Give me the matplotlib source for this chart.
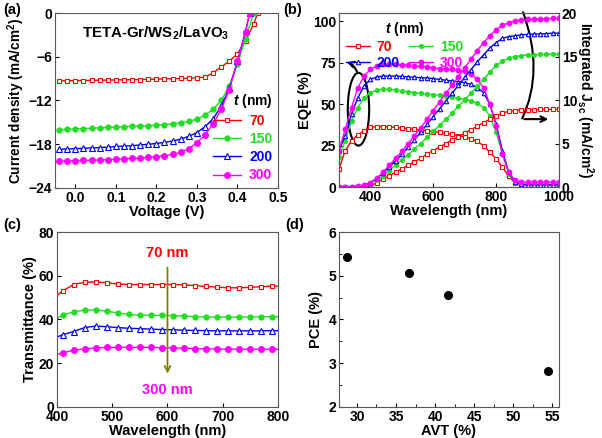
import matplotlib.pyplot as plt
import numpy as np
from matplotlib.path import Path
from matplotlib.patches import PathPatch, Ellipse
from matplotlib.ticker import MultipleLocator

plt.rcParams['font.family'] = ['Liberation Sans', 'DejaVu Sans']
plt.rcParams['font.weight'] = 'bold'
plt.rcParams['axes.labelweight'] = 'bold'
plt.rcParams['mathtext.fontset'] = 'custom'
plt.rcParams['mathtext.rm'] = 'Liberation Sans:bold'
plt.rcParams['mathtext.bf'] = 'Liberation Sans:bold'
plt.rcParams['mathtext.it'] = 'Liberation Sans:italic:bold'
plt.rcParams['mathtext.default'] = 'bf'

# ---- data ----
thickness = ["70", "150", "200", "300"]
colors = ["#ff0000", "#22dd22", "#0000ff", "#ff00ff"]

# (a) J-V
v_70 = [-0.04,-0.02,0.00,0.02,0.04,0.06,0.08,0.10,0.12,0.14,0.16,0.18,0.20,0.22,0.24,0.26,0.28,0.30,0.32,0.34,0.36,0.38,0.40,0.42,0.44,0.45]
j_70 = [-9.30,-9.29,-9.28,-9.26,-9.24,-9.22,-9.20,-9.18,-9.16,-9.14,-9.12,-9.10,-9.07,-9.04,-9.01,-8.98,-8.94,-8.88,-8.80,-8.20,-7.40,-6.60,-5.60,-3.80,-1.50,0.0]
v_150 = [-0.04,-0.02,0.00,0.02,0.04,0.06,0.08,0.10,0.12,0.14,0.16,0.18,0.20,0.22,0.24,0.26,0.28,0.30,0.32,0.34,0.36,0.38,0.40,0.42,0.44]
j_150 = [-16.0,-15.95,-15.9,-15.85,-15.8,-15.75,-15.7,-15.65,-15.6,-15.55,-15.5,-15.45,-15.4,-15.3,-15.2,-15.05,-14.85,-14.55,-14.0,-13.2,-12.0,-10.0,-7.0,-3.5,0.0]
v_200 = [-0.04,-0.02,0.00,0.02,0.04,0.06,0.08,0.10,0.12,0.14,0.16,0.18,0.20,0.22,0.24,0.26,0.28,0.30,0.32,0.34,0.36,0.38,0.40,0.42,0.43]
j_200 = [-18.7,-18.65,-18.6,-18.55,-18.5,-18.45,-18.4,-18.3,-18.25,-18.2,-18.1,-18.0,-17.9,-17.75,-17.55,-17.3,-16.9,-16.4,-15.6,-14.5,-12.8,-10.3,-6.6,-2.5,0.0]
v_300 = [-0.04,-0.02,0.00,0.02,0.04,0.06,0.08,0.10,0.12,0.14,0.16,0.18,0.20,0.22,0.24,0.26,0.28,0.30,0.32,0.34,0.36,0.38,0.40,0.42,0.43]
j_300 = [-20.3,-20.3,-20.25,-20.2,-20.2,-20.15,-20.1,-20.05,-20.0,-19.95,-19.9,-19.8,-19.7,-19.55,-19.4,-19.1,-18.6,-17.8,-16.7,-15.2,-13.2,-10.5,-6.6,-2.6,0.0]

# (b) EQE and integrated Jsc
wl_eqe = [300,320,340,360,380,400,420,440,460,480,500,520,540,560,580,600,620,640,660,680,700,720,740,760,780,800,820,840,860,880,900,920,940,960,980,1000]
eqe_70 = [11,22,28,31.5,34,36,36.5,36.5,36.3,36,35.5,35.2,35,34.5,34,33.5,33,32.5,31.8,31,30.3,29,27.5,25,21,17,12,6.5,2.5,1.2,1,1,1,1,1,1]
eqe_150 = [18,28,40,48,54,57,58.5,59,59,58.5,58,57.5,57,56.5,56,55.8,55.5,55,54.5,53.5,53,52,50.5,48,43,33,20,8,2.5,1.5,1.5,1.5,1.5,1.5,1.5,1.5]
eqe_200 = [22,31,44,54,61,65,66.5,67,67,67,66.8,66.5,66.3,66,65.8,65.5,65,64.5,64,63.5,63,62,60,57,50,38,22,9,3,1.8,1.5,1.5,1.5,1.5,1.5,1.5]
eqe_300 = [22,35,48,60,67,71,73,74,74,74,73.8,73.5,73,72.8,72.5,72,71.5,71,71,70.5,70,68.5,65,60,50,37,20,9,4,3,3,3,3,3,3,3]
jsc_70 = [0,0,0,0,0,0.1,0.5,0.9,1.3,1.7,2.1,2.5,2.9,3.3,3.8,4.2,4.6,5.0,5.4,5.8,6.2,6.6,7.0,7.4,7.8,8.2,8.5,8.7,8.8,8.85,8.9,8.9,8.92,8.93,8.94,8.95]
jsc_150 = [0,0,0,0.1,0.2,0.4,0.8,1.3,1.9,2.5,3.1,3.7,4.4,5.0,5.7,6.4,7.1,7.8,8.5,9.3,10.0,10.8,11.6,12.4,13.2,14.0,14.5,14.8,15.0,15.1,15.2,15.2,15.25,15.25,15.3,15.3]
jsc_200 = [0,0,0,0.1,0.2,0.5,1.0,1.6,2.3,3.0,3.8,4.6,5.4,6.3,7.2,8.1,9.0,9.9,10.8,11.7,12.6,13.5,14.4,15.2,16.0,16.6,17.1,17.3,17.4,17.5,17.55,17.6,17.6,17.65,17.7,17.7]
jsc_300 = [0,0,0,0.1,0.2,0.5,1.0,1.7,2.5,3.3,4.1,5.0,5.9,6.8,7.8,8.8,9.8,10.8,11.7,12.7,13.7,14.7,15.7,16.6,17.4,18.1,18.6,18.9,19.1,19.2,19.3,19.3,19.35,19.35,19.4,19.4]

# (c) transmittance
wl_t = [400,410,430,450,470,490,510,530,550,570,590,610,630,650,670,690,710,730,750,770,790,800]
t_70 = [51,53,56,57,57.2,56.8,56.2,56,56,56,56,56,55.8,55.5,55.1,54.8,54.5,54.5,54.7,55,55.3,55.3]
t_150 = [40.5,42,43.5,44.3,44.4,43.8,43,42.3,42,42,41.9,41.8,41.6,41.3,41.2,41.1,41.1,41.1,41.2,41.2,41.3,41.3]
t_200 = [32,33,34.5,36.3,37,36.7,36.3,36,35.8,35.6,35.4,35.3,35.1,35,34.9,34.8,34.8,34.8,34.8,34.8,34.9,34.9]
t_300 = [24,24.7,26,26.6,27,27.2,27.3,27.3,27.3,27.3,27.1,27,26.9,26.7,26.6,26.5,26.4,26.4,26.4,26.4,26.4,26.4]

# (d) PCE vs AVT
avt = [28.7, 36.6, 41.6, 54.5]
pce = [5.43, 5.07, 4.56, 2.82]

markers = [dict(marker='s', mfc='white', ms=3.5, mew=0.8),
           dict(marker='o', ms=3.5),
           dict(marker='^', mfc='white', ms=4, mew=0.8),
           dict(marker='o', ms=4)]

fig = plt.figure(figsize=(6.02, 4.38), dpi=100)

def style(ax):
    ax.tick_params(direction='in', labelsize=10, length=3, width=0.8, pad=2)
    for s in ax.spines.values():
        s.set_linewidth(0.8)
        s.set_color('0.35')

# ---- (a) ----
ax = fig.add_axes([0.0914, 0.5708, 0.3704, 0.3995])
for v, j, c, m, lab in zip([v_70, v_150, v_200, v_300], [j_70, j_150, j_200, j_300], colors, markers, thickness):
    ax.plot(v, j, '-', color=c, mec=c, lw=1, label=lab, **m)
ax.set_xlim(-0.05, 0.5)
ax.set_ylim(-24, 0)
ax.set_yticks([-24, -18, -12, -6, 0])
ax.set_xticks([0.0, 0.1, 0.2, 0.3, 0.4, 0.5])
ax.set_xlabel("Voltage (V)", fontsize=10.5, labelpad=0)
ax.set_ylabel("Current density (mA/cm$^2$)", fontsize=9.8, labelpad=1)
ax.text(0.45, 0.86, "TETA-Gr/WS$_2$/LaVO$_3$", transform=ax.transAxes, ha='center', fontsize=10.8)
leg = ax.legend(loc='lower right', frameon=False, title="$\\mathit{t}$ (nm)", fontsize=10,
                title_fontsize=10, handlelength=2.0, labelspacing=0.3, borderaxespad=0.0,
                handletextpad=0.6, alignment='right')
for t, c in zip(leg.get_texts(), colors):
    t.set_color(c)
style(ax)
fig.text(0.005, 0.967, "(a)", fontsize=10.5)

# ---- (b) ----
ax = fig.add_axes([0.5631, 0.573, 0.3654, 0.397])
ax2 = ax.twinx()
lines = []
for e, js, c, m, lab in zip([eqe_70, eqe_150, eqe_200, eqe_300], [jsc_70, jsc_150, jsc_200, jsc_300], colors, markers, thickness):
    mm = dict(m)
    mm['ms'] = mm['ms'] - 0.8
    ln, = ax.plot(wl_eqe, e, '-', color=c, mec=c, lw=1, label=lab, **mm)
    ax2.plot(wl_eqe, js, '-', color=c, mec=c, lw=1, **mm)
    lines.append(ln)
ax.set_xlim(300, 1000)
ax.set_ylim(0, 105)
ax2.set_ylim(0, 20)
ax.set_yticks([0, 25, 50, 75, 100])
ax2.set_yticks([0, 5, 10, 15, 20])
ax.set_xticks([400, 600, 800, 1000])
ax.set_xlabel("Wavelength (nm)", fontsize=10.5, labelpad=0)
ax.set_ylabel("EQE (%)", fontsize=10.5, labelpad=1)
ax2.set_ylabel("Integrated J$_{sc}$ (mA/cm$^2$)", fontsize=10, rotation=270, labelpad=13)
order = [0, 2, 1, 3]
leg = ax.legend([lines[i] for i in order], [thickness[i] for i in order], loc='upper left', ncol=2,
                frameon=False, title="$\\mathit{t}$ (nm)", fontsize=10, title_fontsize=10,
                handlelength=1.7, labelspacing=0.15, columnspacing=0.7,
                borderaxespad=0.1, handletextpad=0.5)
for t, i in zip(leg.get_texts(), order):
    t.set_color(colors[i])
ax.add_patch(Ellipse((362, 47), 68, 44, fill=False, lw=1.5, color='black'))
ax.annotate("", xy=(316, 76), xytext=(360, 68),
            arrowprops=dict(arrowstyle='->', lw=1.5, color='black', connectionstyle='arc3,rad=0.3'))
curve = Path([(885, 106), (955, 70), (882, 41)], [Path.MOVETO, Path.CURVE3, Path.CURVE3])
ax.add_patch(PathPatch(curve, fill=False, lw=1.5, color='black', clip_on=False))
ax.annotate("", xy=(975, 41), xytext=(881, 41),
            arrowprops=dict(arrowstyle='->', lw=1.5, color='black'))
style(ax)
style(ax2)
fig.text(0.470, 0.967, "(b)", fontsize=10.5)

# ---- (c) ----
ax = fig.add_axes([0.0947, 0.0708, 0.367, 0.3995])
for t, c, m in zip([t_70, t_150, t_200, t_300], colors, markers):
    ax.plot(wl_t, t, '-', color=c, mec=c, lw=1, markevery=slice(1, -1), **m)
ax.set_xlim(400, 800)
ax.set_ylim(0, 80)
ax.set_yticks([0, 20, 40, 60, 80])
ax.set_xticks([400, 500, 600, 700, 800])
ax.set_xlabel("Wavelength (nm)", fontsize=10.5, labelpad=0)
ax.set_ylabel("Transmittance (%)", fontsize=10.5, labelpad=1)
ax.annotate("", xy=(600, 14), xytext=(600, 65),
            arrowprops=dict(arrowstyle='->', lw=1.3, color='#808000'))
ax.text(600, 67, "70 nm", color=colors[0], ha='center', va='bottom', fontsize=10.5)
ax.text(600, 11, "300 nm", color=colors[3], ha='center', va='top', fontsize=10.5)
style(ax)
fig.text(0.005, 0.478, "(c)", fontsize=10.5)

# ---- (d) ----
ax = fig.add_axes([0.5631, 0.0708, 0.3654, 0.3995])
ax.plot(avt, pce, 'o', color='black', ms=5.5)
ax.set_xlim(27.7, 55.85)
ax.set_ylim(2, 6)
ax.set_xticks([30, 35, 40, 45, 50, 55])
ax.set_yticks([2, 3, 4, 5, 6])
ax.xaxis.set_minor_locator(MultipleLocator(2.5))
ax.yaxis.set_minor_locator(MultipleLocator(0.5))
ax.tick_params(which='minor', direction='in', length=2)
ax.set_xlabel("AVT (%)", fontsize=10.5, labelpad=0)
ax.set_ylabel("PCE (%)", fontsize=10.5, labelpad=4)
style(ax)
fig.text(0.474, 0.478, "(d)", fontsize=10.5)

fig.savefig("out.png", dpi=100)
